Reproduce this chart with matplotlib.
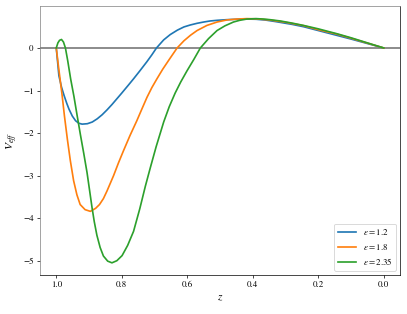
import numpy as np
import matplotlib
matplotlib.use('Agg')
import matplotlib.pyplot as plt

plt.rcParams['font.family'] = 'STIXGeneral'
plt.rcParams['mathtext.fontset'] = 'stix'

# values (z, V_eff) for each epsilon
eps_labels = ['1.2', '1.8', '2.35']

z_blue = [1.0, 0.996, 0.992, 0.984, 0.976, 0.968, 0.961, 0.951, 0.941, 0.931, 0.921,
          0.905, 0.89, 0.875, 0.86, 0.845, 0.83, 0.815, 0.80, 0.78, 0.764, 0.745,
          0.723, 0.708, 0.694, 0.672, 0.652, 0.63, 0.61, 0.591, 0.57, 0.55, 0.53,
          0.509, 0.48, 0.45, 0.42, 0.39, 0.36, 0.33, 0.28, 0.245, 0.20, 0.15,
          0.10, 0.05, 0.0]
v_blue = [0.0, -0.32, -0.65, -0.92, -1.12, -1.30, -1.44, -1.60, -1.71, -1.77, -1.79,
          -1.78, -1.74, -1.665, -1.57, -1.455, -1.33, -1.195, -1.06, -0.875, -0.725, -0.54,
          -0.32, -0.16, 0.0, 0.19, 0.315, 0.42, 0.495, 0.54, 0.58, 0.61, 0.635,
          0.65, 0.665, 0.675, 0.68, 0.675, 0.655, 0.62, 0.555, 0.50, 0.41, 0.31,
          0.21, 0.105, 0.0]

z_orange = [1.0, 0.993, 0.982, 0.975, 0.966, 0.957, 0.947, 0.937, 0.927, 0.912,
            0.896, 0.88, 0.868, 0.856, 0.845, 0.825, 0.81, 0.795, 0.775, 0.754,
            0.74, 0.723, 0.708, 0.693, 0.675, 0.655, 0.631, 0.61, 0.59, 0.57,
            0.54, 0.509, 0.478, 0.448, 0.418, 0.39, 0.35, 0.30, 0.245, 0.20,
            0.143, 0.10, 0.05, 0.0]
v_orange = [0.0, -0.45, -1.12, -1.6, -2.15, -2.65, -3.12, -3.45, -3.68, -3.80,
            -3.84, -3.77, -3.68, -3.54, -3.36, -3.0, -2.70, -2.42, -2.06, -1.71,
            -1.46, -1.16, -0.93, -0.73, -0.50, -0.27, 0.0, 0.17, 0.30, 0.41,
            0.53, 0.61, 0.66, 0.68, 0.69, 0.685, 0.66, 0.605, 0.525, 0.43,
            0.325, 0.23, 0.115, 0.0]

z_green = [1.0, 0.995, 0.99, 0.984, 0.978, 0.972, 0.965, 0.956, 0.946, 0.936, 0.926,
           0.916, 0.906, 0.898, 0.891, 0.884, 0.876, 0.866, 0.856, 0.843, 0.83,
           0.815, 0.799, 0.782, 0.764, 0.745, 0.728, 0.713, 0.695, 0.672, 0.655,
           0.637, 0.62, 0.601, 0.58, 0.56, 0.535, 0.509, 0.485, 0.459, 0.44,
           0.418, 0.39, 0.367, 0.347, 0.316, 0.28, 0.245, 0.20, 0.143, 0.10,
           0.05, 0.0]
v_green = [0.0, 0.12, 0.18, 0.20, 0.14, 0.0, -0.30, -0.73, -1.14, -1.60, -2.05,
           -2.48, -2.93, -3.36, -3.74, -4.08, -4.40, -4.69, -4.89, -5.01, -5.05,
           -5.00, -4.88, -4.64, -4.31, -3.78, -3.25, -2.82, -2.32, -1.74, -1.38,
           -1.06, -0.80, -0.54, -0.27, 0.0, 0.22, 0.41, 0.52, 0.61, 0.65,
           0.68, 0.69, 0.68, 0.665, 0.635, 0.585, 0.53, 0.45, 0.335, 0.24,
           0.12, 0.0]

fig = plt.figure(figsize=(6.4, 4.94), dpi=63.6)
ax = fig.add_subplot(111)
fig.subplots_adjust(left=0.098, right=0.983, top=0.979, bottom=0.124)

ax.axhline(0, color='gray', lw=2)
ax.plot(z_blue, v_blue, color='#1f77b4', lw=1.9, label=r'$\varepsilon = %s$' % eps_labels[0])
ax.plot(z_orange, v_orange, color='#ff7f0e', lw=1.9, label=r'$\varepsilon = %s$' % eps_labels[1])
ax.plot(z_green, v_green, color='#2ca02c', lw=1.9, label=r'$\varepsilon = %s$' % eps_labels[2])

ax.invert_xaxis()
ax.set_xlabel(r'$z$', fontsize=13)
ax.set_ylabel(r'$V_{eff}$', fontsize=13)
ax.spines['top'].set_color('0.5')
ax.spines['left'].set_color('0.5')
ax.legend(loc='lower right')

fig.savefig('out.png', dpi=63.6)
